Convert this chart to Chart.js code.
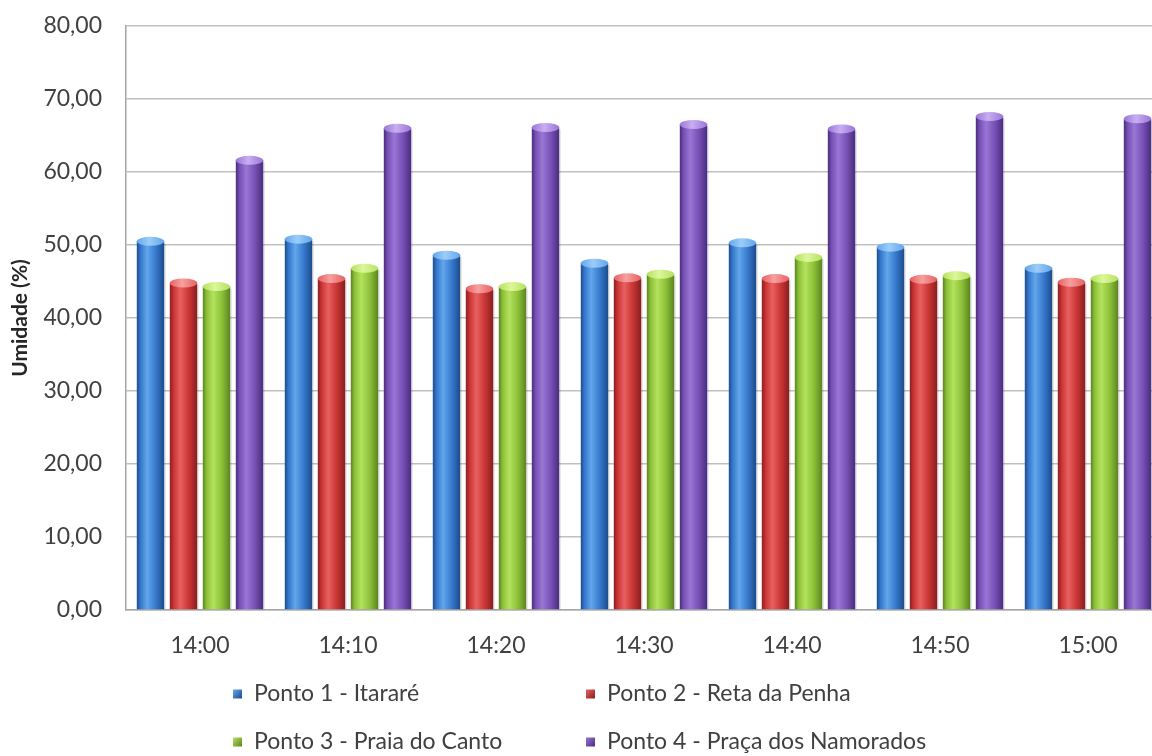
<!DOCTYPE html>
<html>
<head>
<meta charset="utf-8">
<title>Umidade por ponto</title>
<script src="https://cdn.jsdelivr.net/npm/chart.js@4.4.1/dist/chart.umd.min.js"></script>
<style>
  html, body { margin: 0; padding: 0; background: #ffffff; overflow: hidden; }
  #wrap { position: relative; width: 1168px; height: 756px; }
</style>
</head>
<body>
<div id="wrap"><canvas id="chart"></canvas></div>
<script>
// Measurement times
const categories = ['14:00', '14:10', '14:20', '14:30', '14:40', '14:50', '15:00'];

// Series names
const seriesNames = [
  'Ponto 1 - Itararé',
  'Ponto 2 - Reta da Penha',
  'Ponto 3 - Praia do Canto',
  'Ponto 4 - Praça dos Namorados'
];

// Relative humidity (%) at each point
const ponto1 = [50.5, 50.8, 48.6, 47.5, 50.3, 49.7, 46.8];
const ponto2 = [44.8, 45.4, 44.0, 45.5, 45.4, 45.3, 44.9];
const ponto3 = [44.3, 46.8, 44.3, 46.0, 48.3, 45.8, 45.4];
const ponto4 = [61.6, 66.0, 66.1, 66.5, 65.9, 67.6, 67.3];

// Y axis tick labels (0 to 80, step 10)
const yTickLabels = ['0,00', '10,00', '20,00', '30,00', '40,00', '50,00', '60,00', '70,00', '80,00'];

// Shading for the cylinder look: edge, body, highlight, top cap
const palettes = [
  { base: '#3576c8', dark: '#1d4b8a', mid: '#3578cc', light: '#62a6ec', cap: '#9ccdf8' },
  { base: '#c83232', dark: '#8a1e1e', mid: '#c93434', light: '#e96060', cap: '#f6a0a0' },
  { base: '#8cbe3a', dark: '#5a8420', mid: '#8cc038', light: '#b4e25e', cap: '#dcf69a' },
  { base: '#7550b0', dark: '#4a2c7e', mid: '#7650b4', light: '#9a76d6', cap: '#c8aef2' }
];

const seriesValues = [ponto1, ponto2, ponto3, ponto4];

// Draws every bar as a shaded cylinder using the element geometry from the scales
const cylinderBars = {
  id: 'cylinderBars',
  beforeDatasetDraw(chart, args) {
    const { ctx, chartArea } = chart;
    const pal = palettes[args.index];
    ctx.save();
    ctx.beginPath();
    ctx.rect(chartArea.left, chartArea.top - 12, chartArea.right - chartArea.left, chartArea.bottom - chartArea.top + 12);
    ctx.clip();
    args.meta.data.forEach(bar => {
      const { x, y, base, width } = bar.getProps(['x', 'y', 'base', 'width'], true);
      const l = x - width / 2;
      const r = x + width / 2;

      const body = ctx.createLinearGradient(l, 0, r, 0);
      body.addColorStop(0, pal.dark);
      body.addColorStop(0.14, pal.mid);
      body.addColorStop(0.38, pal.light);
      body.addColorStop(0.7, pal.mid);
      body.addColorStop(1, pal.dark);
      ctx.fillStyle = body;
      ctx.fillRect(l, y, width, base - y);

      // thin shadow along the right side
      ctx.fillStyle = 'rgba(0,0,0,0.12)';
      ctx.fillRect(r, y + 2, 1.5, base - y - 2);

      // top cap
      const ry = Math.min(4.5, width * 0.17);
      const capGrad = ctx.createLinearGradient(l, 0, r, 0);
      capGrad.addColorStop(0, pal.light);
      capGrad.addColorStop(0.45, pal.cap);
      capGrad.addColorStop(1, pal.light);
      ctx.beginPath();
      ctx.ellipse(x, y, width / 2, ry, 0, 0, Math.PI * 2);
      ctx.fillStyle = capGrad;
      ctx.fill();
    });
    ctx.restore();
    return false;
  }
};

// Two-column legend under the axis
const gridLegend = {
  id: 'gridLegend',
  afterDraw(chart, args, opts) {
    const { ctx } = chart;
    ctx.save();
    ctx.font = opts.font;
    ctx.textBaseline = 'middle';
    ctx.textAlign = 'left';
    chart.data.datasets.forEach((ds, i) => {
      const pal = palettes[i];
      const col = i % 2;
      const row = Math.floor(i / 2);
      const tx = opts.columns[col];
      const ty = opts.rows[row];
      const bx = tx - opts.gap - opts.box;
      const by = ty - opts.box / 2;
      const g = ctx.createLinearGradient(bx, by, bx + opts.box, by + opts.box);
      g.addColorStop(0, pal.light);
      g.addColorStop(1, pal.dark);
      ctx.fillStyle = g;
      ctx.fillRect(bx, by, opts.box, opts.box);
      ctx.fillStyle = opts.color;
      ctx.fillText(ds.label, tx, ty);
    });
    ctx.restore();
  }
};

const tickFont = { family: 'Lato', size: 23 };

new Chart(document.getElementById('chart'), {
  type: 'bar',
  data: {
    labels: categories,
    datasets: seriesValues.map((vals, i) => ({
      label: seriesNames[i],
      data: vals,
      backgroundColor: palettes[i].base,
      categoryPercentage: 0.892,
      barPercentage: 0.83
    }))
  },
  options: {
    responsive: true,
    maintainAspectRatio: false,
    animation: false,
    layout: { padding: { top: 26, right: 6, bottom: 0, left: 0 } },
    plugins: {
      legend: { display: false },
      tooltip: { enabled: false },
      gridLegend: {
        columns: [254, 607],
        rows: [694, 742],
        box: 9,
        gap: 12,
        color: '#404040',
        font: '23px Lato'
      }
    },
    scales: {
      x: {
        grid: { display: false, drawTicks: false },
        border: { display: true, color: '#a6a6a6', width: 1.5 },
        ticks: { padding: 22, color: '#404040', font: tickFont },
        afterFit(scale) { scale.height = 146; }
      },
      y: {
        min: 0,
        max: 80,
        ticks: {
          stepSize: 10,
          padding: 24,
          color: '#404040',
          font: tickFont,
          callback: (v) => yTickLabels[Math.round(v / 10)]
        },
        grid: { color: '#c0c0c0', lineWidth: 1.5, drawTicks: false },
        border: { display: true, color: '#a6a6a6', width: 1.5 },
        title: {
          display: true,
          text: 'Umidade (%)',
          color: '#262626',
          font: { family: 'Lato', size: 21, weight: 'bold' },
          padding: { top: 8, bottom: 0 }
        },
        afterFit(scale) {
          scale.width = 126;
          scale.paddingTop = 0;
          scale.paddingBottom = 0;
        }
      }
    }
  },
  plugins: [cylinderBars, gridLegend]
});
</script>
</body>
</html>
